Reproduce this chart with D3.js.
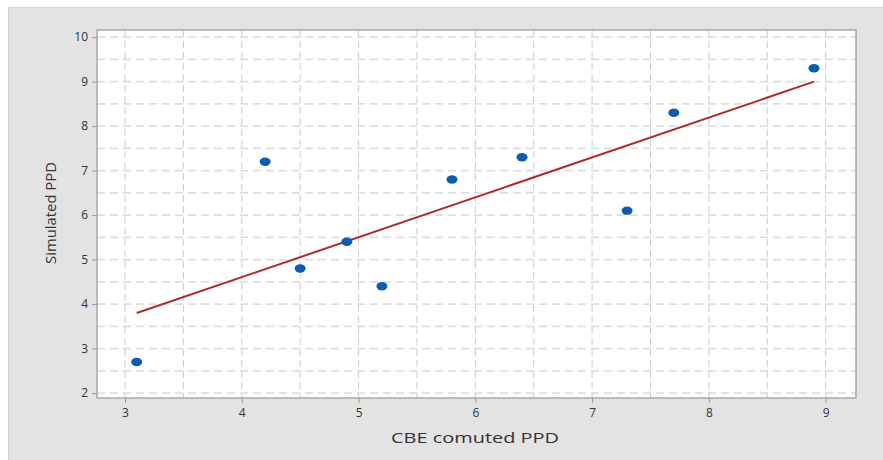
<!DOCTYPE html>
<html>
<head>
<meta charset="utf-8">
<script src="https://cdn.jsdelivr.net/npm/d3@7"></script>
<style>
  body { margin: 0; background: #fff; }
  text { font-family: "Open Sans", "DejaVu Sans", sans-serif; fill: #333; }
</style>
</head>
<body>
<div id="chart"></div>
<script>
const svgWidth = 883;
const svgHeight = 460;

// data
const cbePPD = [3.1, 4.2, 4.5, 4.9, 5.2, 5.8, 6.4, 7.3, 7.7, 8.9];
const simPPD = [2.7, 7.2, 4.8, 5.4, 4.4, 6.8, 7.3, 6.1, 8.3, 9.3];
const fitX = [3.1, 8.9];
const fitY = [3.8, 9.0];
const xTicks = [3, 4, 5, 6, 7, 8, 9];
const yTicks = [2, 3, 4, 5, 6, 7, 8, 9, 10];
const xGrid = [3, 3.5, 4, 4.5, 5, 5.5, 6, 6.5, 7, 7.5, 8, 8.5, 9];
const yGrid = [2, 2.5, 3, 3.5, 4, 4.5, 5, 5.5, 6, 6.5, 7, 7.5, 8, 8.5, 9, 9.5, 10];

const plot = { left: 97, top: 30, right: 856, bottom: 398 };

const svg = d3.select("#chart")
    .append("svg")
    .attr("width", svgWidth)
    .attr("height", svgHeight);

// grey panel behind the plot
svg.append("rect")
    .attr("x", 8.5)
    .attr("y", 7.5)
    .attr("width", svgWidth)
    .attr("height", svgHeight)
    .attr("fill", "#e3e3e3")
    .attr("stroke", "#d2d2d2");

const x = d3.scaleLinear()
    .domain([2.76, 9.26])
    .range([plot.left, plot.right]);

const y = d3.scaleLinear()
    .domain([1.89, 10.16])
    .range([plot.bottom, plot.top]);

svg.append("rect")
    .attr("x", plot.left)
    .attr("y", plot.top)
    .attr("width", plot.right - plot.left)
    .attr("height", plot.bottom - plot.top)
    .attr("fill", "#fff");

// dashed grid
svg.append("g").selectAll("line")
    .data(yGrid)
    .enter()
    .append("line")
    .attr("x1", plot.left)
    .attr("x2", plot.right)
    .attr("y1", d => y(d))
    .attr("y2", d => y(d))
    .attr("stroke", "#dedede")
    .attr("stroke-width", 1.6)
    .attr("stroke-dasharray", "8,5");

svg.append("g").selectAll("line")
    .data(xGrid)
    .enter()
    .append("line")
    .attr("x1", d => x(d))
    .attr("x2", d => x(d))
    .attr("y1", plot.top)
    .attr("y2", plot.bottom)
    .attr("stroke", "#cccccc")
    .attr("stroke-width", 1)
    .attr("stroke-dasharray", "7,4");

// frame
svg.append("rect")
    .attr("x", plot.left)
    .attr("y", plot.top)
    .attr("width", plot.right - plot.left)
    .attr("height", plot.bottom - plot.top)
    .attr("fill", "none")
    .attr("stroke", "#a8a8a8")
    .attr("stroke-width", 1.5);

const xAxis = svg.append("g")
    .attr("transform", `translate(0, ${plot.bottom})`)
    .call(d3.axisBottom(x).tickValues(xTicks).tickSize(5).tickPadding(5).tickFormat(d3.format("d")));

const yAxis = svg.append("g")
    .attr("transform", `translate(${plot.left}, 0)`)
    .call(d3.axisLeft(y).tickValues(yTicks).tickSize(5).tickPadding(4).tickFormat(d3.format("d")));

[xAxis, yAxis].forEach(function(ax){
    ax.select(".domain").remove();
    ax.selectAll(".tick line").attr("stroke", "#999");
    ax.selectAll(".tick text")
        .attr("font-size", 12)
        .attr("font-family", "\"Open Sans\", sans-serif")
        .attr("fill", "#333");
});

// fitted line
svg.append("line")
    .attr("x1", x(fitX[0]))
    .attr("y1", y(fitY[0]))
    .attr("x2", x(fitX[1]))
    .attr("y2", y(fitY[1]))
    .attr("stroke", "#b02a2a")
    .attr("stroke-width", 2);

// points
svg.append("g").selectAll("ellipse")
    .data(cbePPD)
    .enter()
    .append("ellipse")
    .attr("cx", d => x(d))
    .attr("cy", (d, i) => y(simPPD[i]))
    .attr("rx", 5.5)
    .attr("ry", 4.2)
    .attr("fill", "#0b5db3");

// axis titles
svg.append("text")
    .attr("x", 475)
    .attr("y", 443)
    .attr("text-anchor", "middle")
    .attr("font-size", 15)
    .attr("textLength", 168)
    .attr("lengthAdjust", "spacingAndGlyphs")
    .text("CBE comuted PPD");

svg.append("text")
    .attr("transform", "rotate(-90)")
    .attr("x", -213)
    .attr("y", 56)
    .attr("text-anchor", "middle")
    .attr("font-size", 14)
    .attr("textLength", 102)
    .attr("lengthAdjust", "spacingAndGlyphs")
    .text("Simulated PPD");
</script>
</body>
</html>
